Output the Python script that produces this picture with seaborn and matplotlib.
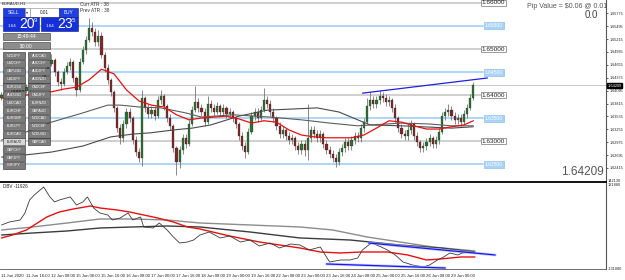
import matplotlib
matplotlib.use('Agg')
import matplotlib.pyplot as plt
import seaborn as sns
import numpy as np
from matplotlib.patches import Rectangle

# ---------------- data (EURAUD H1, drawn as 2-hour bars) ----------------
first_open = 1.6393
closes = [1.6400,1.6404,1.6398,1.6407,1.6411,1.6404,1.6413,1.6409,1.6417,1.6415,
          1.6422,1.6420,1.6428,1.6437,1.6450,1.6467,1.6476,1.6450,1.6428,1.6424,
          1.6450,1.6463,1.6472,1.6437,1.6411,1.6472,1.6498,1.6519,1.6545,1.6537,
          1.6515,1.6528,1.6487,1.6459,1.6433,1.6407,1.6372,1.6328,1.6307,1.6337,
          1.6363,1.6350,1.6302,1.6276,1.6263,1.6393,1.6372,1.6359,1.6367,1.6354,
          1.6389,1.6398,1.6376,1.6350,1.6333,1.6285,1.6255,1.6281,1.6307,1.6294,
          1.6337,1.6367,1.6385,1.6372,1.6363,1.6341,1.6380,1.6372,1.6363,1.6376,
          1.6363,1.6372,1.6359,1.6363,1.6350,1.6337,1.6311,1.6289,1.6276,1.6320,
          1.6354,1.6363,1.6350,1.6367,1.6389,1.6380,1.6363,1.6350,1.6333,1.6315,
          1.6324,1.6311,1.6302,1.6307,1.6289,1.6281,1.6294,1.6281,1.6307,1.6324,
          1.6315,1.6307,1.6315,1.6294,1.6281,1.6272,1.6263,1.6255,1.6276,1.6285,
          1.6298,1.6289,1.6302,1.6311,1.6307,1.6328,1.6341,1.6376,1.6389,1.6380,
          1.6389,1.6398,1.6393,1.6385,1.6389,1.6372,1.6350,1.6328,1.6315,1.6311,
          1.6324,1.6337,1.6311,1.6298,1.6285,1.6289,1.6298,1.6307,1.6294,1.6302,
          1.6320,1.6354,1.6363,1.6367,1.6354,1.6346,1.6350,1.6341,1.6359,1.6372,
          1.6393,1.64209]
highs = [1.6407,1.6411,1.6409,1.6413,1.6420,1.6415,1.6420,1.6420,1.6424,1.6426,
         1.6428,1.6433,1.6437,1.6446,1.6459,1.6476,1.6489,1.6480,1.6454,1.6437,
         1.6459,1.6472,1.6480,1.6476,1.6441,1.6480,1.6506,1.6528,1.6567,1.6558,
         1.6545,1.6541,1.6537,1.6493,1.6467,1.6437,1.6411,1.6376,1.6337,1.6346,
         1.6372,1.6372,1.6354,1.6311,1.6285,1.6411,1.6398,1.6380,1.6376,1.6376,
         1.6398,1.6411,1.6402,1.6380,1.6359,1.6337,1.6289,1.6289,1.6315,1.6315,
         1.6346,1.6376,1.6420,1.6393,1.6380,1.6372,1.6398,1.6389,1.6380,1.6385,
         1.6380,1.6380,1.6376,1.6372,1.6367,1.6354,1.6341,1.6320,1.6298,1.6328,
         1.6363,1.6372,1.6372,1.6376,1.6415,1.6398,1.6389,1.6372,1.6354,1.6341,
         1.6333,1.6328,1.6320,1.6315,1.6311,1.6298,1.6302,1.6302,1.6380,1.6333,
         1.6333,1.6324,1.6324,1.6320,1.6302,1.6289,1.6281,1.6272,1.6285,1.6294,
         1.6307,1.6307,1.6311,1.6320,1.6320,1.6337,1.6350,1.6393,1.6407,1.6398,
         1.6398,1.6411,1.6407,1.6402,1.6398,1.6393,1.6380,1.6354,1.6337,1.6324,
         1.6337,1.6346,1.6341,1.6320,1.6302,1.6298,1.6307,1.6315,1.6311,1.6311,
         1.6328,1.6363,1.6372,1.6380,1.6376,1.6363,1.6359,1.6359,1.6367,1.6380,
         1.6402,1.6428]
lows = [1.6389,1.6393,1.6391,1.6393,1.6402,1.6398,1.6400,1.6402,1.6404,1.6409,
        1.6411,1.6413,1.6415,1.6424,1.6433,1.6446,1.6463,1.6441,1.6420,1.6411,
        1.6420,1.6446,1.6454,1.6428,1.6398,1.6407,1.6467,1.6489,1.6515,1.6528,
        1.6506,1.6506,1.6480,1.6450,1.6424,1.6398,1.6363,1.6320,1.6294,1.6298,
        1.6328,1.6341,1.6294,1.6268,1.6255,1.6246,1.6363,1.6350,1.6350,1.6346,
        1.6350,1.6380,1.6367,1.6341,1.6324,1.6276,1.6226,1.6242,1.6272,1.6285,
        1.6289,1.6333,1.6363,1.6363,1.6354,1.6333,1.6337,1.6363,1.6354,1.6359,
        1.6354,1.6354,1.6350,1.6350,1.6341,1.6328,1.6302,1.6281,1.6263,1.6272,
        1.6315,1.6346,1.6341,1.6346,1.6363,1.6372,1.6354,1.6341,1.6324,1.6307,
        1.6307,1.6302,1.6294,1.6294,1.6281,1.6272,1.6272,1.6268,1.6259,1.6298,
        1.6307,1.6298,1.6298,1.6285,1.6272,1.6263,1.6255,1.6244,1.6248,1.6268,
        1.6276,1.6281,1.6281,1.6294,1.6298,1.6298,1.6320,1.6337,1.6367,1.6372,
        1.6372,1.6380,1.6385,1.6376,1.6376,1.6363,1.6341,1.6320,1.6307,1.6302,
        1.6302,1.6315,1.6302,1.6289,1.6276,1.6276,1.6281,1.6289,1.6285,1.6285,
        1.6294,1.6315,1.6346,1.6354,1.6346,1.6337,1.6337,1.6333,1.6337,1.6350,
        1.6367,1.6389]
bar_hours = 2

# moving averages on the price panel (hour offset, price)
ma_red_h = list(range(0, 300, 8)) + [302]
ma_red = [1.6393,1.6398,1.6400,1.6402,1.6407,1.6413,1.6417,1.6433,1.6456,1.6446,
          1.6411,1.6387,1.6378,1.6374,1.6357,1.6346,1.6350,1.6352,1.6354,1.6348,
          1.6339,1.6344,1.6341,1.6324,1.6313,1.6309,1.6307,1.6307,1.6307,1.6313,
          1.6328,1.6344,1.6341,1.6333,1.6326,1.6326,1.6331,1.6335,1.6344]
ma_a_h = [0,16,32,52,68,76,88,102,118,128,148,172,192,210,228,256,274,288,302]
ma_a = [1.6302,1.6320,1.6341,1.6361,1.6378,1.6378,1.6374,1.6372,1.6361,1.6352,
        1.6357,1.6352,1.6346,1.6339,1.6333,1.6339,1.6337,1.6333,1.6333]
ma_b_h = [0,16,32,52,70,84,96,110,122,134,152,170,202,216,228,236,256,288,302]
ma_b = [1.6265,1.6270,1.6276,1.6289,1.6309,1.6315,1.6318,1.6324,1.6328,1.6335,
        1.6354,1.6367,1.6372,1.6363,1.6346,1.6335,1.6333,1.6328,1.6331]
trend_h = [231, 311]
trend_p = [1.6404, 1.6437]

levels = [1.66, 1.655, 1.65, 1.645, 1.64, 1.635, 1.63, 1.625]
level_kind = ['gray', 'blue', 'gray', 'blue', 'gray', 'blue', 'gray', 'blue']
level_labels = ['1.66000', '1.65500', '1.65000', '1.64500', '1.64000', '1.63500', '1.63000', '1.62500']
last_price = 1.64209
price_ticks = [1.65775, 1.65495, 1.65215, 1.64935, 1.64655, 1.64375, 1.64095,
               1.63815, 1.63535, 1.63255, 1.62975, 1.62695, 1.62415]

# DBV indicator panel
dbv_h = [0,5,12,15,18,21,27,31,34,37,44,48,52,55,59,63,68,71,76,81,84,89,91,97,101,106,110,114,119,123,
         127,133,140,146,153,159,165,172,178,185,191,197,204,210,217,223,228,231,235,237,243,247,252,257,
         263,270,274,279,283,287,292,295,300,303]
dbv = [44100,50100,54100,68100,94100,104100,120100,100100,90100,94100,100100,84100,90100,100100,78100,
       68100,64100,54100,58100,68100,54100,60100,40100,38100,48100,34100,20100,8100,10100,14100,24100,
       30100,18100,22100,10100,14100,2100,8100,-1900,6100,4100,-5900,100,-29900,-25900,-25900,-21900,
       -5900,4100,8100,100,-5900,-15900,-29900,-35900,-39900,-35900,-25900,-19900,-11900,-15900,-11900,
       -9900,-11926]
dbv_red_h = [0,7,16,23,29,37,46,57,63,74,82,91,100,110,119,127,146,165,191,204,217,230,247,260,272,281,294,303]
dbv_red = [18100,24100,34100,48100,60100,70100,76100,82100,78100,74100,70100,64100,58100,50100,40100,
           36100,22100,10100,-1900,-9900,-11900,-9900,-9900,-15900,-25900,-23900,-19900,-19900]
dbv_g1_h = [0,20,42,63,84,106,127,159,191,212,234,255,276,303]
dbv_g1 = [34100,40100,48100,56100,56100,54100,48100,44100,40100,34100,20100,10100,100,-7900]
dbv_g2_h = [0,20,42,63,84,106,127,159,191,223,255,281,303]
dbv_g2 = [24100,28100,32100,38100,40100,42100,40100,30100,18100,14100,4100,-1900,-9900]
dbv_tl1_h, dbv_tl1 = [235, 316], [8100, -15900]
dbv_tl2_h, dbv_tl2 = [208, 284], [-33900, -41900]

time_labels = ['11 Jun 2020', '11 Jun 16:00', '12 Jun 08:00', '15 Jun 00:00', '15 Jun 16:00',
               '16 Jun 08:00', '17 Jun 00:00', '17 Jun 16:00', '18 Jun 08:00', '19 Jun 00:00',
               '19 Jun 16:00', '22 Jun 08:00', '23 Jun 00:00', '23 Jun 16:00', '24 Jun 08:00',
               '25 Jun 00:00', '25 Jun 16:00', '26 Jun 08:00', '29 Jun 00:00']
label_step_h = 16

left_syms = ['NZDJPY', 'USDCHF', 'GBPUSD', 'USDJPY', 'EURUSD', 'AUDUSD', 'USDCAD', 'EURCHF',
             'EURGBP', 'EURJPY', 'EURCAD', 'EURAUD', 'GBPCHF', 'GBPJPY', 'CHFJPY']
right_syms = ['AUDCAD', 'AUDCHF', 'AUDJPY', 'AUDNZD', 'CADCHF', 'CADJPY', 'EURNZD', 'GBPAUD',
              'NZDCAD', 'NZDCHF', 'NZDUSD', 'GBPCAD']

# ---------------- drawing ----------------
sns.set_theme(style='white')
plt.rcParams['font.family'] = ['Liberation Sans', 'DejaVu Sans']

W, H = 625, 280
fig = plt.figure(figsize=(W / 100, H / 100), dpi=100)
fig.patch.set_facecolor('white')
ax = fig.add_axes([0, 1 - 181 / H, 606 / W, 181 / H])
ax2 = fig.add_axes([0, 1 - 269 / H, 606 / W, (269 - 182) / H])

XMIN, XMAX = -0.96, 386.9
for a in (ax, ax2):
    a.set_xlim(XMIN, XMAX)
    a.set_facecolor('white')
ax.set_ylim(1.621522 - 0.000217, 1.660652)
ax2.set_ylim(-43926, 130074)

# level lines
lvl_end = 308
for lv, kind, lab in zip(levels, level_kind, level_labels):
    if kind == 'gray':
        ax.plot([XMIN, lvl_end], [lv, lv], color='#c4c4c4', lw=1.1, zorder=1)
        ax.text(lvl_end + 7, lv, lab, fontsize=4.6, color='#222', ha='center', va='center', zorder=6,
                bbox=dict(boxstyle='square,pad=0.15', fc='white', ec='#8a8a8a', lw=0.6))
    else:
        ax.plot([XMIN, lvl_end], [lv, lv], color='#a9d2f6', lw=1.3, zorder=1)
        ax.text(lvl_end + 7, lv, lab, fontsize=3.6, color='white', ha='center', va='center', zorder=6,
                bbox=dict(boxstyle='square,pad=0.2', fc='#a9d2f6', ec='#8cc0f0', lw=0.5))
ax.axhline(last_price, color='#c8c8c8', lw=0.7, zorder=1)

# candles
n = len(closes)
hours = np.arange(n) * bar_hours
opens = np.array([first_open] + closes[:-1])
c = np.array(closes)
hi = np.array(highs)
lo = np.array(lows)
up = c >= opens
ax.vlines(hours, lo, hi, color='#6a6a6a', lw=0.55, zorder=3)
body_lo = np.minimum(opens, c)
body_h = np.maximum(np.abs(c - opens), 0.00006)
ax.bar(hours[up], body_h[up], bottom=body_lo[up], width=1.35, color='#2f6e35',
       edgecolor='#1e3f1e', linewidth=0.2, zorder=4)
ax.bar(hours[~up], body_h[~up], bottom=body_lo[~up], width=1.35, color='#7d2a2a',
       edgecolor='#3a1a1a', linewidth=0.2, zorder=4)

# MAs and trend line
sns.lineplot(x=ma_b_h, y=ma_b, ax=ax, color='#4a4a4a', lw=0.8, zorder=5, legend=False)
sns.lineplot(x=ma_a_h, y=ma_a, ax=ax, color='#5e5e5e', lw=0.8, zorder=5, legend=False)
sns.lineplot(x=ma_red_h, y=ma_red, ax=ax, color='#e81010', lw=0.9, zorder=5, legend=False)
sns.lineplot(x=trend_h, y=trend_p, ax=ax, color='#2020e0', lw=0.9, zorder=5, legend=False)

# price axis
ax.yaxis.tick_right()
ax.set_yticks(price_ticks)
ax.set_yticklabels([f'{t:.5f}' for t in price_ticks])
ax.tick_params(axis='y', length=1.5, width=0.5, pad=0.8, labelsize=2.7, colors='#222', direction='out')
ax.set_xticks([])
ax.set_ylabel('')
ax.set_xlabel('')
for s in ['top', 'left', 'bottom']:
    ax.spines[s].set_visible(False)
ax.spines['right'].set_color('#555')
ax.spines['right'].set_linewidth(0.8)

# lower indicator
sns.lineplot(x=dbv_g1_h, y=dbv_g1, ax=ax2, color='#8c8c8c', lw=1.0, legend=False)
sns.lineplot(x=dbv_g2_h, y=dbv_g2, ax=ax2, color='#3c3c3c', lw=1.0, legend=False)
sns.lineplot(x=dbv_red_h, y=dbv_red, ax=ax2, color='#e81010', lw=1.0, legend=False)
sns.lineplot(x=dbv_h, y=dbv, ax=ax2, color='#3a3a3a', lw=0.6, legend=False)
for th, tv in ((dbv_tl1_h, dbv_tl1), (dbv_tl2_h, dbv_tl2)):
    ax2.plot(th, tv, color='#a8b4ff', lw=2.0, alpha=0.7)
    sns.lineplot(x=th, y=tv, ax=ax2, color='#1a1aee', lw=0.9, legend=False)
ax2.set_yticks([])
ax2.set_xlabel('')
ax2.set_ylabel('')
tick_h = [k * label_step_h for k in range(len(time_labels))]
ax2.set_xticks(tick_h)
ax2.set_xticklabels(time_labels, ha='left', fontsize=3.1, color='#222')
ax2.tick_params(axis='x', length=2, width=0.5, pad=1.5, direction='out')
ax2.spines['top'].set_color('black')
ax2.spines['top'].set_linewidth(1.3)
ax2.spines['left'].set_visible(False)
ax2.spines['right'].set_color('#555')
ax2.spines['right'].set_linewidth(0.8)
ax2.spines['bottom'].set_color('#555')
ax2.spines['bottom'].set_linewidth(0.6)

# ---------------- overlay (terminal widgets / labels) ----------------
ov = fig.add_axes([0, 0, 1, 1], zorder=10)
ov.set_xlim(0, W)
ov.set_ylim(H, 0)
ov.axis('off')
ov.patch.set_alpha(0)

ov.text(2, 3.5, 'EURAUD,H1', fontsize=3, color='#222', va='center')
ov.text(80, 4.5, 'Curr ATR : 38', fontsize=3.4, color='#333', va='center')
ov.text(80, 11, 'Prev ATR : 38', fontsize=3.4, color='#333', va='center')
ov.text(527, 6.5, 'Pip Value = $0.06 @ 0.01', fontsize=5, color='#555', va='center')
ov.text(598, 15.5, '0.0', fontsize=7, color='#444', va='center', ha='right')
ov.text(604, 172, f'{last_price:.5f}', fontsize=8.5, color='#555', va='center', ha='right')
ov.text(3, 186, 'DBV -11926', fontsize=3.3, color='#222', va='center')
ov.text(607.5, 85.6, f'{last_price:.5f}', fontsize=2.8, color='white', va='center',
        bbox=dict(boxstyle='square,pad=0.15', fc='black', ec='black'))
ov.text(608, 181, '142130', fontsize=2.8, color='#222', va='center')
ov.text(608, 185, '131880', fontsize=2.8, color='#222', va='center')
ov.text(608, 268.5, '-131880', fontsize=2.8, color='#222', va='center')


def box(x, y, w, h, fc, ec='#222', lw=0.4):
    ov.add_patch(Rectangle((x, y), w, h, fc=fc, ec=ec, lw=lw))


blue = '#1f3fe0'
box(3, 8, 22, 9, blue, '#0b1a80')
ov.text(14, 12.6, 'SELL', fontsize=3.4, color='white', ha='center', va='center')
box(25, 8, 5, 9, 'white', '#888')
ov.text(27.5, 12.5, '\u25be', fontsize=3, color='#333', ha='center', va='center')
box(30, 8, 29, 9, 'white', '#888')
ov.text(44.5, 12.6, '0.01', fontsize=3.4, color='#222', ha='center', va='center')
box(59, 8, 19, 9, blue, '#0b1a80')
ov.text(68.5, 12.6, 'BUY', fontsize=3.4, color='white', ha='center', va='center')
box(3, 17, 36, 14, '#1530d8', '#0b1a80')
box(41, 17, 37, 14, '#1530d8', '#0b1a80')
ov.text(8, 26, '1.64', fontsize=3.2, color='white', va='center')
ov.text(19, 24.5, '20', fontsize=10, color='white', va='center')
ov.text(34, 20.5, '9', fontsize=4.5, color='white', va='center')
ov.text(46, 26, '1.64', fontsize=3.2, color='white', va='center')
ov.text(57, 24.5, '23', fontsize=10, color='white', va='center')
ov.text(72, 20.5, '5', fontsize=4.5, color='white', va='center')

box(3, 33, 47, 7, '#8d8d8d', '#333')
ov.text(26.5, 36.6, '15:49:44', fontsize=3.6, color='white', ha='center', va='center')
box(3, 42, 47, 7, '#8d8d8d', '#333')
ov.text(26.5, 45.6, '$0.00', fontsize=3.6, color='white', ha='center', va='center')

row_step = 7.85
for k, s in enumerate(left_syms):
    y0 = 52 + k * row_step
    hl = (s == 'EURAUD')
    box(3, y0, 22, 7, '#d6d6d6' if hl else '#7b7b7b', '#2a2a2a')
    ov.text(14, y0 + 3.6, s, fontsize=2.6, color='#333' if hl else 'white', ha='center', va='center')
for k, s in enumerate(right_syms):
    y0 = 52 + k * row_step
    box(28, y0, 22, 7, '#7b7b7b', '#2a2a2a')
    ov.text(39, y0 + 3.6, s, fontsize=2.6, color='white', ha='center', va='center')

fig.savefig('out.png', dpi=100, facecolor='white')
